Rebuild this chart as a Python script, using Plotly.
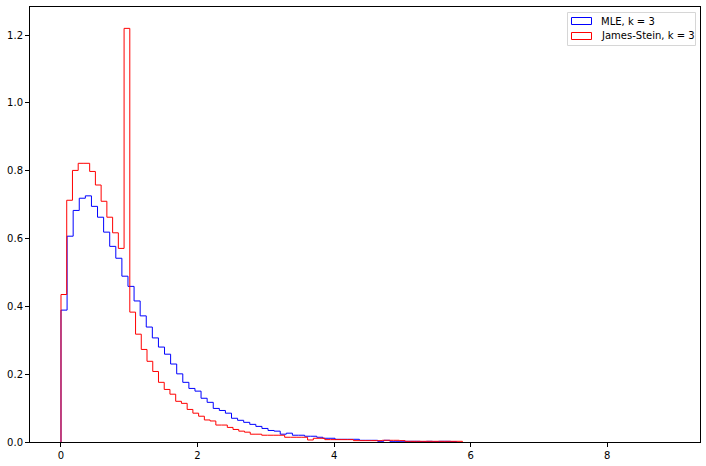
import plotly.graph_objects as go

# Histogram (density) values (bins beyond the last
# listed one are empty)
mle_bin_width = 0.0892
mle_values = [
    0.389, 0.607, 0.683, 0.719, 0.726, 0.695, 0.663, 0.619, 0.577, 0.542,
    0.489, 0.459, 0.416, 0.372, 0.339, 0.307, 0.280, 0.259, 0.230, 0.201,
    0.176, 0.158, 0.150, 0.129, 0.117, 0.099, 0.093, 0.085, 0.070, 0.064,
    0.058, 0.052, 0.046, 0.040, 0.034, 0.032, 0.023, 0.026, 0.020, 0.020,
    0.017, 0.017, 0.014, 0.011, 0.011, 0.008, 0.008, 0.008, 0.008, 0.005,
    0.005, 0.005, 0.002, 0.005, 0.002, 0.002, 0.002, 0.002, 0.002, 0.001,
    0.002, 0.001, 0.002, 0.002, 0.001,
]

js_bin_width = 0.084
js_values = [
    0.435, 0.713, 0.801, 0.822, 0.822, 0.798, 0.758, 0.710, 0.663, 0.617,
    0.571, 1.220, 0.383, 0.318, 0.273, 0.238, 0.208, 0.176, 0.155, 0.141,
    0.120, 0.114, 0.096, 0.085, 0.076, 0.065, 0.062, 0.050, 0.050, 0.043,
    0.037, 0.032, 0.029, 0.023, 0.023, 0.020, 0.020, 0.020, 0.020, 0.014,
    0.014, 0.014, 0.014, 0.006, 0.011, 0.011, 0.007, 0.007, 0.007, 0.007,
    0.007, 0.004, 0.004, 0.004, 0.004, 0.004, 0.005, 0.005, 0.005, 0.004,
    0.002, 0.002, 0.002, 0.002, 0.002, 0.002, 0.002, 0.002, 0.002, 0.002,
]

series_names = ["MLE, k = 3", "James-Stein, k = 3"]
series_colors = ["blue", "red"]

x_ticks = [0, 2, 4, 6, 8]
y_ticks = [0.0, 0.2, 0.4, 0.6, 0.8, 1.0, 1.2]

W, H = 706, 466
ML, MR, MT, MB = 30, 6, 7, 24
PW, PH = W - ML - MR, H - MT - MB


def px_x(px):
    return (px - ML) / PW


def px_y(py):
    return (H - MB - py) / PH


def step_outline(values, width):
    edges = [i * width for i in range(len(values) + 1)]
    xs = [edges[0]] + edges
    ys = [0.0] + list(values) + [0.0]
    return xs, ys


fig = go.Figure()
for vals, w, name, col in zip([mle_values, js_values], [mle_bin_width, js_bin_width],
                              series_names, series_colors):
    xs, ys = step_outline(vals, w)
    fig.add_trace(go.Scatter(
        x=xs, y=ys, mode="lines", line=dict(color=col, width=1, shape="hv"),
        name=name, showlegend=False,
    ))

# Manual matplotlib-style legend
shapes = [dict(type="rect", xref="paper", yref="paper",
               x0=px_x(567.5), x1=px_x(695.5), y0=px_y(45.5), y1=px_y(12.5),
               line=dict(color="#d6d6d6", width=1), fillcolor="white", layer="above")]
annotations = []
for i, (name, col) in enumerate(zip(series_names, series_colors)):
    top = 17.5 + i * 15
    shapes.append(dict(type="rect", xref="paper", yref="paper",
                       x0=px_x(571.5), x1=px_x(591.5), y0=px_y(top + 7), y1=px_y(top),
                       line=dict(color=col, width=1), fillcolor="rgba(0,0,0,0)", layer="above"))
    annotations.append(dict(xref="paper", yref="paper", x=px_x(598.5), y=px_y(top + 3.5),
                            xanchor="left", yanchor="middle", showarrow=False, text=name,
                            font=dict(family="DejaVu Sans", size=10, color="black")))

axis_common = dict(
    showgrid=False, zeroline=False, showline=True, linecolor="black", linewidth=1,
    mirror=True, ticks="outside", ticklen=4, tickwidth=1, tickcolor="black",
    automargin=False,
    tickfont=dict(family="DejaVu Sans", size=10, color="black"),
)

fig.update_layout(
    width=W, height=H,
    margin=dict(l=ML, r=MR, t=MT, b=MB),
    paper_bgcolor="white", plot_bgcolor="white",
    showlegend=False,
    shapes=shapes, annotations=annotations,
    xaxis=dict(range=[-0.454, 9.36], tickvals=x_ticks,
               ticktext=[str(t) for t in x_ticks], **axis_common),
    yaxis=dict(range=[0, 1.283], tickvals=y_ticks,
               ticktext=[f"{t:.1f}" for t in y_ticks], **axis_common),
)

fig.write_html("out.html", config={"displayModeBar": False},
               post_script="document.body.style.margin='0';document.body.style.overflow='hidden';")
